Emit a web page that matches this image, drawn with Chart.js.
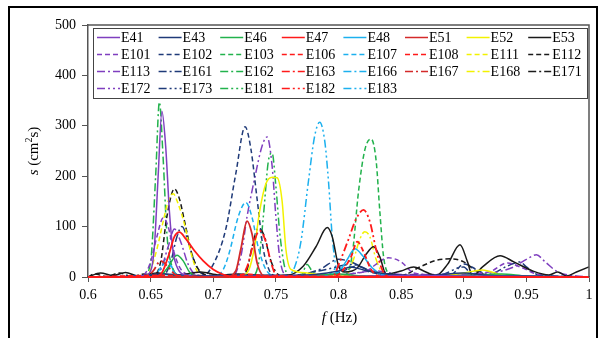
<!DOCTYPE html>
<html>
<head>
<meta charset="utf-8">
<script src="https://cdn.jsdelivr.net/npm/chart.js@4/dist/chart.umd.min.js"></script>
<style>
  html, body { margin: 0; padding: 0; background: #fff; }
  #wrap { width: 600px; height: 338px; }
</style>
</head>
<body>
<div id="wrap"><canvas id="spec" width="600" height="338"></canvas></div>
<script>
/* ── Spectra s(f) per run ───────────────────────────────────────────────────── */

const X_TICKS = [0.6, 0.65, 0.7, 0.75, 0.8, 0.85, 0.9, 0.95, 1];
const Y_TICKS = [0, 100, 200, 300, 400, 500];

// ── Series values: [f (Hz), s (cm²s)] ─────────────────────────────────────────
const E41 = [[0.6,0],[0.63,1],[0.645,3],[0.65,12],[0.653,60],[0.656,200],[0.659,329],[0.662,260],[0.665,130],[0.668,50],[0.672,15],[0.678,4],[0.69,1],[0.75,2],[0.8,1],[0.85,3],[0.9,2],[0.95,1],[1,0]];
const E43 = [[0.6,0],[0.64,2],[0.66,6],[0.675,4],[0.7,2],[0.72,4],[0.76,3],[0.8,12],[0.81,20],[0.82,14],[0.84,6],[0.87,3],[0.9,8],[0.92,3],[0.96,2],[1,0]];
const E46 = [[0.6,0],[0.65,0],[0.658,3],[0.664,20],[0.671,43],[0.676,32],[0.681,10],[0.686,2],[0.72,1],[0.78,3],[0.8,6],[0.82,2],[0.9,3],[0.93,6],[0.95,2],[1,0]];
const E47 = [[0.6,0],[0.65,0],[0.658,5],[0.664,40],[0.669,80],[0.673,89],[0.678,76],[0.685,52],[0.692,32],[0.7,15],[0.708,5],[0.715,0],[0.8,0],[1,0]];
const E48 = [[0.6,0],[0.65,1],[0.66,5],[0.7,1],[0.78,2],[0.8,10],[0.807,35],[0.813,56],[0.82,40],[0.827,18],[0.835,5],[0.85,1],[1,0]];
const E51 = [[0.6,0],[0.71,0],[0.718,12],[0.722,55],[0.727,111],[0.731,85],[0.735,28],[0.74,3],[0.75,0],[1,0]];
const E52 = [[0.6,0],[0.72,0],[0.728,12],[0.733,60],[0.737,130],[0.742,185],[0.747,198],[0.751,197],[0.755,150],[0.758,55],[0.762,15],[0.775,8],[0.79,3],[0.82,2],[0.87,0],[0.9,8],[0.915,14],[0.93,4],[0.96,0],[1,0]];
const E53 = [[0.6,0],[0.61,8],[0.62,3],[0.63,9],[0.64,2],[0.655,8],[0.67,3],[0.69,10],[0.705,4],[0.72,6],[0.74,3],[0.76,4],[0.772,22],[0.782,60],[0.791,98],[0.795,80],[0.8,22],[0.805,10],[0.815,18],[0.822,45],[0.828,60],[0.833,40],[0.838,6],[0.85,12],[0.86,20],[0.868,12],[0.878,3],[0.887,25],[0.897,64],[0.903,30],[0.907,2],[0.915,20],[0.929,42],[0.94,30],[0.955,12],[0.968,4],[0.975,10],[0.982,2],[0.99,10],[1,20]];
const E101 = [[0.6,0],[0.64,1],[0.645,5],[0.65,30],[0.655,80],[0.66,117],[0.664,100],[0.668,55],[0.673,20],[0.68,5],[0.7,2],[0.78,3],[0.82,10],[0.84,38],[0.85,30],[0.86,8],[0.88,4],[0.92,10],[0.935,28],[0.945,20],[0.96,5],[1,0]];
const E102 = [[0.6,0],[0.69,0],[0.7,25],[0.71,95],[0.718,205],[0.7254,298],[0.73,255],[0.735,155],[0.74,55],[0.745,12],[0.75,2],[0.78,2],[0.8,8],[0.815,22],[0.825,10],[0.85,3],[0.89,5],[0.9,26],[0.91,15],[0.92,3],[1,0]];
const E103 = [[0.6,0],[0.8,0],[0.806,5],[0.811,45],[0.816,170],[0.821,252],[0.826,274],[0.83,232],[0.833,130],[0.836,40],[0.84,6],[0.845,0],[1,0]];
const E106 = [[0.6,0],[0.79,0],[0.8,5],[0.81,40],[0.815,70],[0.82,50],[0.826,15],[0.835,0],[1,0]];
const E107 = [[0.6,0],[0.65,0],[0.655,8],[0.66,25],[0.664,30],[0.668,12],[0.675,2],[0.7,0],[0.708,15],[0.713,50],[0.72,120],[0.726,148],[0.731,118],[0.736,58],[0.742,15],[0.75,2],[1,0]];
const E108 = [[0.6,0],[0.66,3],[0.7,0],[0.73,5],[0.74,2],[1,0]];
const E111 = [[0.6,0],[0.645,0],[0.65,15],[0.655,55],[0.66,110],[0.664,150],[0.668,165],[0.672,145],[0.677,105],[0.682,50],[0.687,12],[0.693,0],[0.75,2],[1,0]];
const E112 = [[0.6,0],[0.605,6],[0.615,1],[0.625,8],[0.635,1],[0.645,6],[0.652,3],[0.658,30],[0.663,120],[0.669,175],[0.673,155],[0.678,100],[0.683,45],[0.69,10],[0.7,3],[0.76,2],[0.85,3],[0.865,20],[0.878,33],[0.89,36],[0.9,30],[0.91,12],[0.92,3],[1,0]];
const E113 = [[0.6,0],[0.65,2],[0.658,15],[0.664,60],[0.669,95],[0.674,70],[0.68,25],[0.686,5],[0.7,2],[0.75,3],[0.8,4],[0.83,12],[0.85,5],[0.92,8],[0.94,20],[0.95,35],[0.958,44],[0.965,30],[0.975,10],[0.99,2],[1,0]];
const E161 = [[0.6,0],[0.66,2],[0.666,30],[0.671,80],[0.675,100],[0.68,70],[0.685,30],[0.69,8],[0.7,2],[0.76,2],[0.785,15],[0.8,35],[0.81,30],[0.825,12],[0.84,3],[0.92,5],[0.935,22],[0.945,30],[0.95,20],[0.96,4],[1,0]];
const E162 = [[0.6,0],[0.644,0],[0.65,30],[0.654,200],[0.657,347],[0.66,235],[0.663,85],[0.667,22],[0.674,3],[0.7,1],[0.77,3],[0.775,25],[0.78,8],[0.8,2],[1,0]];
const E163 = [[0.6,0],[0.72,0],[0.727,20],[0.732,65],[0.737,92],[0.742,70],[0.746,30],[0.75,5],[0.76,0],[1,0]];
const E166 = [[0.6,0],[0.652,0],[0.658,15],[0.662,35],[0.666,25],[0.67,5],[0.68,0],[0.79,2],[0.8,20],[0.806,8],[0.81,0],[1,0]];
const E167 = [[0.6,0],[0.645,0],[0.652,12],[0.658,32],[0.664,20],[0.67,4],[0.68,0],[1,0]];
const E168 = [[0.6,0],[0.805,0],[0.812,35],[0.817,75],[0.821,90],[0.825,80],[0.83,35],[0.835,8],[0.84,0],[1,0]];
const E171 = [[0.6,0],[0.72,0],[0.727,15],[0.731,60],[0.736,97],[0.741,80],[0.745,40],[0.75,10],[0.757,0],[1,0]];
const E172 = [[0.6,0],[0.715,0],[0.722,40],[0.727,120],[0.733,195],[0.739,260],[0.743,278],[0.747,220],[0.75,120],[0.753,40],[0.757,5],[0.765,0],[1,0]];
const E173 = [[0.6,0],[0.75,0],[0.77,5],[0.79,15],[0.81,25],[0.83,8],[0.85,0],[0.88,3],[0.9,20],[0.905,8],[0.91,0],[1,0]];
const E181 = [[0.6,0],[0.73,0],[0.736,25],[0.74,120],[0.744,230],[0.747,246],[0.75,180],[0.753,90],[0.757,20],[0.762,0],[1,0]];
const E182 = [[0.6,0],[0.795,0],[0.801,30],[0.808,75],[0.814,115],[0.82,133],[0.825,110],[0.83,55],[0.834,20],[0.838,3],[0.845,0],[1,0]];
const E183 = [[0.6,0],[0.758,0],[0.765,20],[0.77,70],[0.776,190],[0.781,280],[0.785,307],[0.789,270],[0.792,190],[0.795,80],[0.798,20],[0.803,0],[1,0]];

// ── Styles ────────────────────────────────────────────────────────────────────
const C = {
  purple : '#7f3fbf',
  navy   : '#1f3a78',
  green  : '#22b24c',
  red    : '#ff1a1a',
  blue   : '#1cb0ee',
  dkred  : '#d42a2a',
  yellow : '#f2f200',
  black  : '#1a1a1a',
};
const DASH = {
  solid : [],
  dash  : [5, 3],
  dd    : [8, 3, 2, 3],
  ddd   : [8, 3, 2, 3, 2, 3],
};

const series = [
  ['E41',  E41,  C.purple, 'solid'], ['E43',  E43,  C.navy,  'solid'],
  ['E46',  E46,  C.green,  'solid'], ['E47',  E47,  C.red,   'solid'],
  ['E48',  E48,  C.blue,   'solid'], ['E51',  E51,  C.dkred, 'solid'],
  ['E52',  E52,  C.yellow, 'solid'], ['E53',  E53,  C.black, 'solid'],
  ['E101', E101, C.purple, 'dash'],  ['E102', E102, C.navy,  'dash'],
  ['E103', E103, C.green,  'dash'],  ['E106', E106, C.red,   'dash'],
  ['E107', E107, C.blue,   'dash'],  ['E108', E108, C.red,   'dash'],
  ['E111', E111, C.yellow, 'dash'],  ['E112', E112, C.black, 'dash'],
  ['E113', E113, C.purple, 'dd'],    ['E161', E161, C.navy,  'dd'],
  ['E162', E162, C.green,  'dd'],    ['E163', E163, C.red,   'dd'],
  ['E166', E166, C.blue,   'dd'],    ['E167', E167, C.dkred, 'dd'],
  ['E168', E168, C.yellow, 'dd'],    ['E171', E171, C.black, 'dd'],
  ['E172', E172, C.purple, 'ddd'],   ['E173', E173, C.navy,  'ddd'],
  ['E181', E181, C.green,  'ddd'],   ['E182', E182, C.red,   'ddd'],
  ['E183', E183, C.blue,   'ddd'],
];

const FONT = '"Liberation Serif", "Times New Roman", serif';

// ── Custom drawing: frame, legend box, axis titles ────────────────────────────
const decor = {
  id: 'decor',
  beforeDraw(chart) {
    const ctx = chart.ctx;
    ctx.save();
    ctx.fillStyle = '#fff';
    ctx.fillRect(0, 0, chart.width, chart.height);
    ctx.restore();
  },
  afterDraw(chart) {
    const ctx = chart.ctx;
    const a = chart.chartArea;
    ctx.save();

    // outer page frame
    ctx.strokeStyle = '#000';
    ctx.lineWidth = 2;
    ctx.beginPath();
    ctx.moveTo(9, 338); ctx.lineTo(9, 7); ctx.lineTo(597, 7); ctx.lineTo(597, 338);
    ctx.stroke();

    // plot frame top + right
    ctx.strokeStyle = '#555';
    ctx.lineWidth = 1.5;
    ctx.beginPath();
    ctx.moveTo(a.left, a.top); ctx.lineTo(a.right, a.top); ctx.lineTo(a.right, a.bottom);
    ctx.stroke();

    // legend box
    const lx = a.left + 5, ly = a.top + 3, lw = a.right - a.left - 7, lh = 70;
    ctx.fillStyle = '#fff';
    ctx.fillRect(lx, ly, lw, lh);
    ctx.strokeStyle = '#444';
    ctx.lineWidth = 1;
    ctx.strokeRect(lx + 0.5, ly + 0.5, lw, lh);

    ctx.font = `14px ${FONT}`;
    ctx.textBaseline = 'middle';
    ctx.fillStyle = '#000';
    chart.data.datasets.forEach((ds, i) => {
      const col = i % 8, row = Math.floor(i / 8);
      const x0 = a.left + 9 + col * 61.6;
      const y0 = ly + 9.5 + row * 17;
      ctx.strokeStyle = ds.borderColor;
      ctx.lineWidth = 1.5;
      ctx.setLineDash(ds.borderDash);
      ctx.beginPath();
      ctx.moveTo(x0, y0); ctx.lineTo(x0 + 23, y0);
      ctx.stroke();
      ctx.setLineDash([]);
      ctx.fillText(ds.label, x0 + 24, y0 + 0.5);
    });

    // y axis title: s (cm²s)
    ctx.save();
    ctx.translate(34, 151);
    ctx.rotate(-Math.PI / 2);
    const parts = [
      ['s', `italic 15px ${FONT}`, 0],
      [' (cm', `15px ${FONT}`, 0],
      ['2', `10px ${FONT}`, -5],
      ['s)', `15px ${FONT}`, 0],
    ];
    let w = 0;
    parts.forEach(p => { ctx.font = p[1]; w += ctx.measureText(p[0]).width; });
    let x = -w / 2;
    ctx.textBaseline = 'middle';
    parts.forEach(p => {
      ctx.font = p[1];
      ctx.fillText(p[0], x, p[2]);
      x += ctx.measureText(p[0]).width;
    });
    ctx.restore();

    // x axis title: f (Hz)
    const xp = [['f', `italic 15px ${FONT}`], [' (Hz)', `15px ${FONT}`]];
    w = 0;
    xp.forEach(p => { ctx.font = p[1]; w += ctx.measureText(p[0]).width; });
    x = (a.left + a.right) / 2 + 1 - w / 2;
    xp.forEach(p => {
      ctx.font = p[1];
      ctx.fillText(p[0], x, 318);
      x += ctx.measureText(p[0]).width;
    });

    ctx.restore();
  },
};

// ── Build chart ───────────────────────────────────────────────────────────────
new Chart(document.getElementById('spec'), {
  type: 'line',
  data: {
    datasets: series.map(([name, pts, color, dash]) => ({
      label          : name,
      data           : pts.map(([x, y]) => ({ x, y })),
      borderColor    : color,
      borderDash     : DASH[dash],
      borderWidth    : (color === C.red || color === C.dkred) ? 1.8 : 1.5,
      pointRadius    : 0,
      fill           : false,
      clip           : false,
      order          : (color === C.red || color === C.dkred) ? 0 : 1,
      cubicInterpolationMode: 'monotone',
    })),
  },
  options: {
    responsive: false,
    animation : false,
    devicePixelRatio: 1,
    layout    : { padding: { left: 0, top: 25, right: 11, bottom: 0 } },
    plugins   : { legend: { display: false }, tooltip: { enabled: false } },
    scales    : {
      x: {
        type: 'linear', min: 0.6, max: 1,
        afterBuildTicks: s => { s.ticks = X_TICKS.map(v => ({ value: v })); },
        afterFit: s => { s.height = 61; },
        grid  : { drawOnChartArea: false, drawTicks: true, tickLength: 5, color: '#555' },
        border: { display: true, color: '#555', width: 1.5 },
        ticks : {
          color: '#000', padding: 5, maxRotation: 0,
          font: { family: FONT, size: 14 },
          callback: v => String(Number(v.toFixed(2))),
        },
      },
      y: {
        min: 0, max: 500,
        afterBuildTicks: s => { s.ticks = Y_TICKS.map(v => ({ value: v })); },
        afterFit: s => { s.width = 88; },
        grid  : { drawOnChartArea: false, drawTicks: true, tickLength: 6, color: '#555' },
        border: { display: true, color: '#555', width: 1.5 },
        ticks : { color: '#000', padding: 6, font: { family: FONT, size: 14 } },
      },
    },
  },
  plugins: [decor],
});
</script>
</body>
</html>
